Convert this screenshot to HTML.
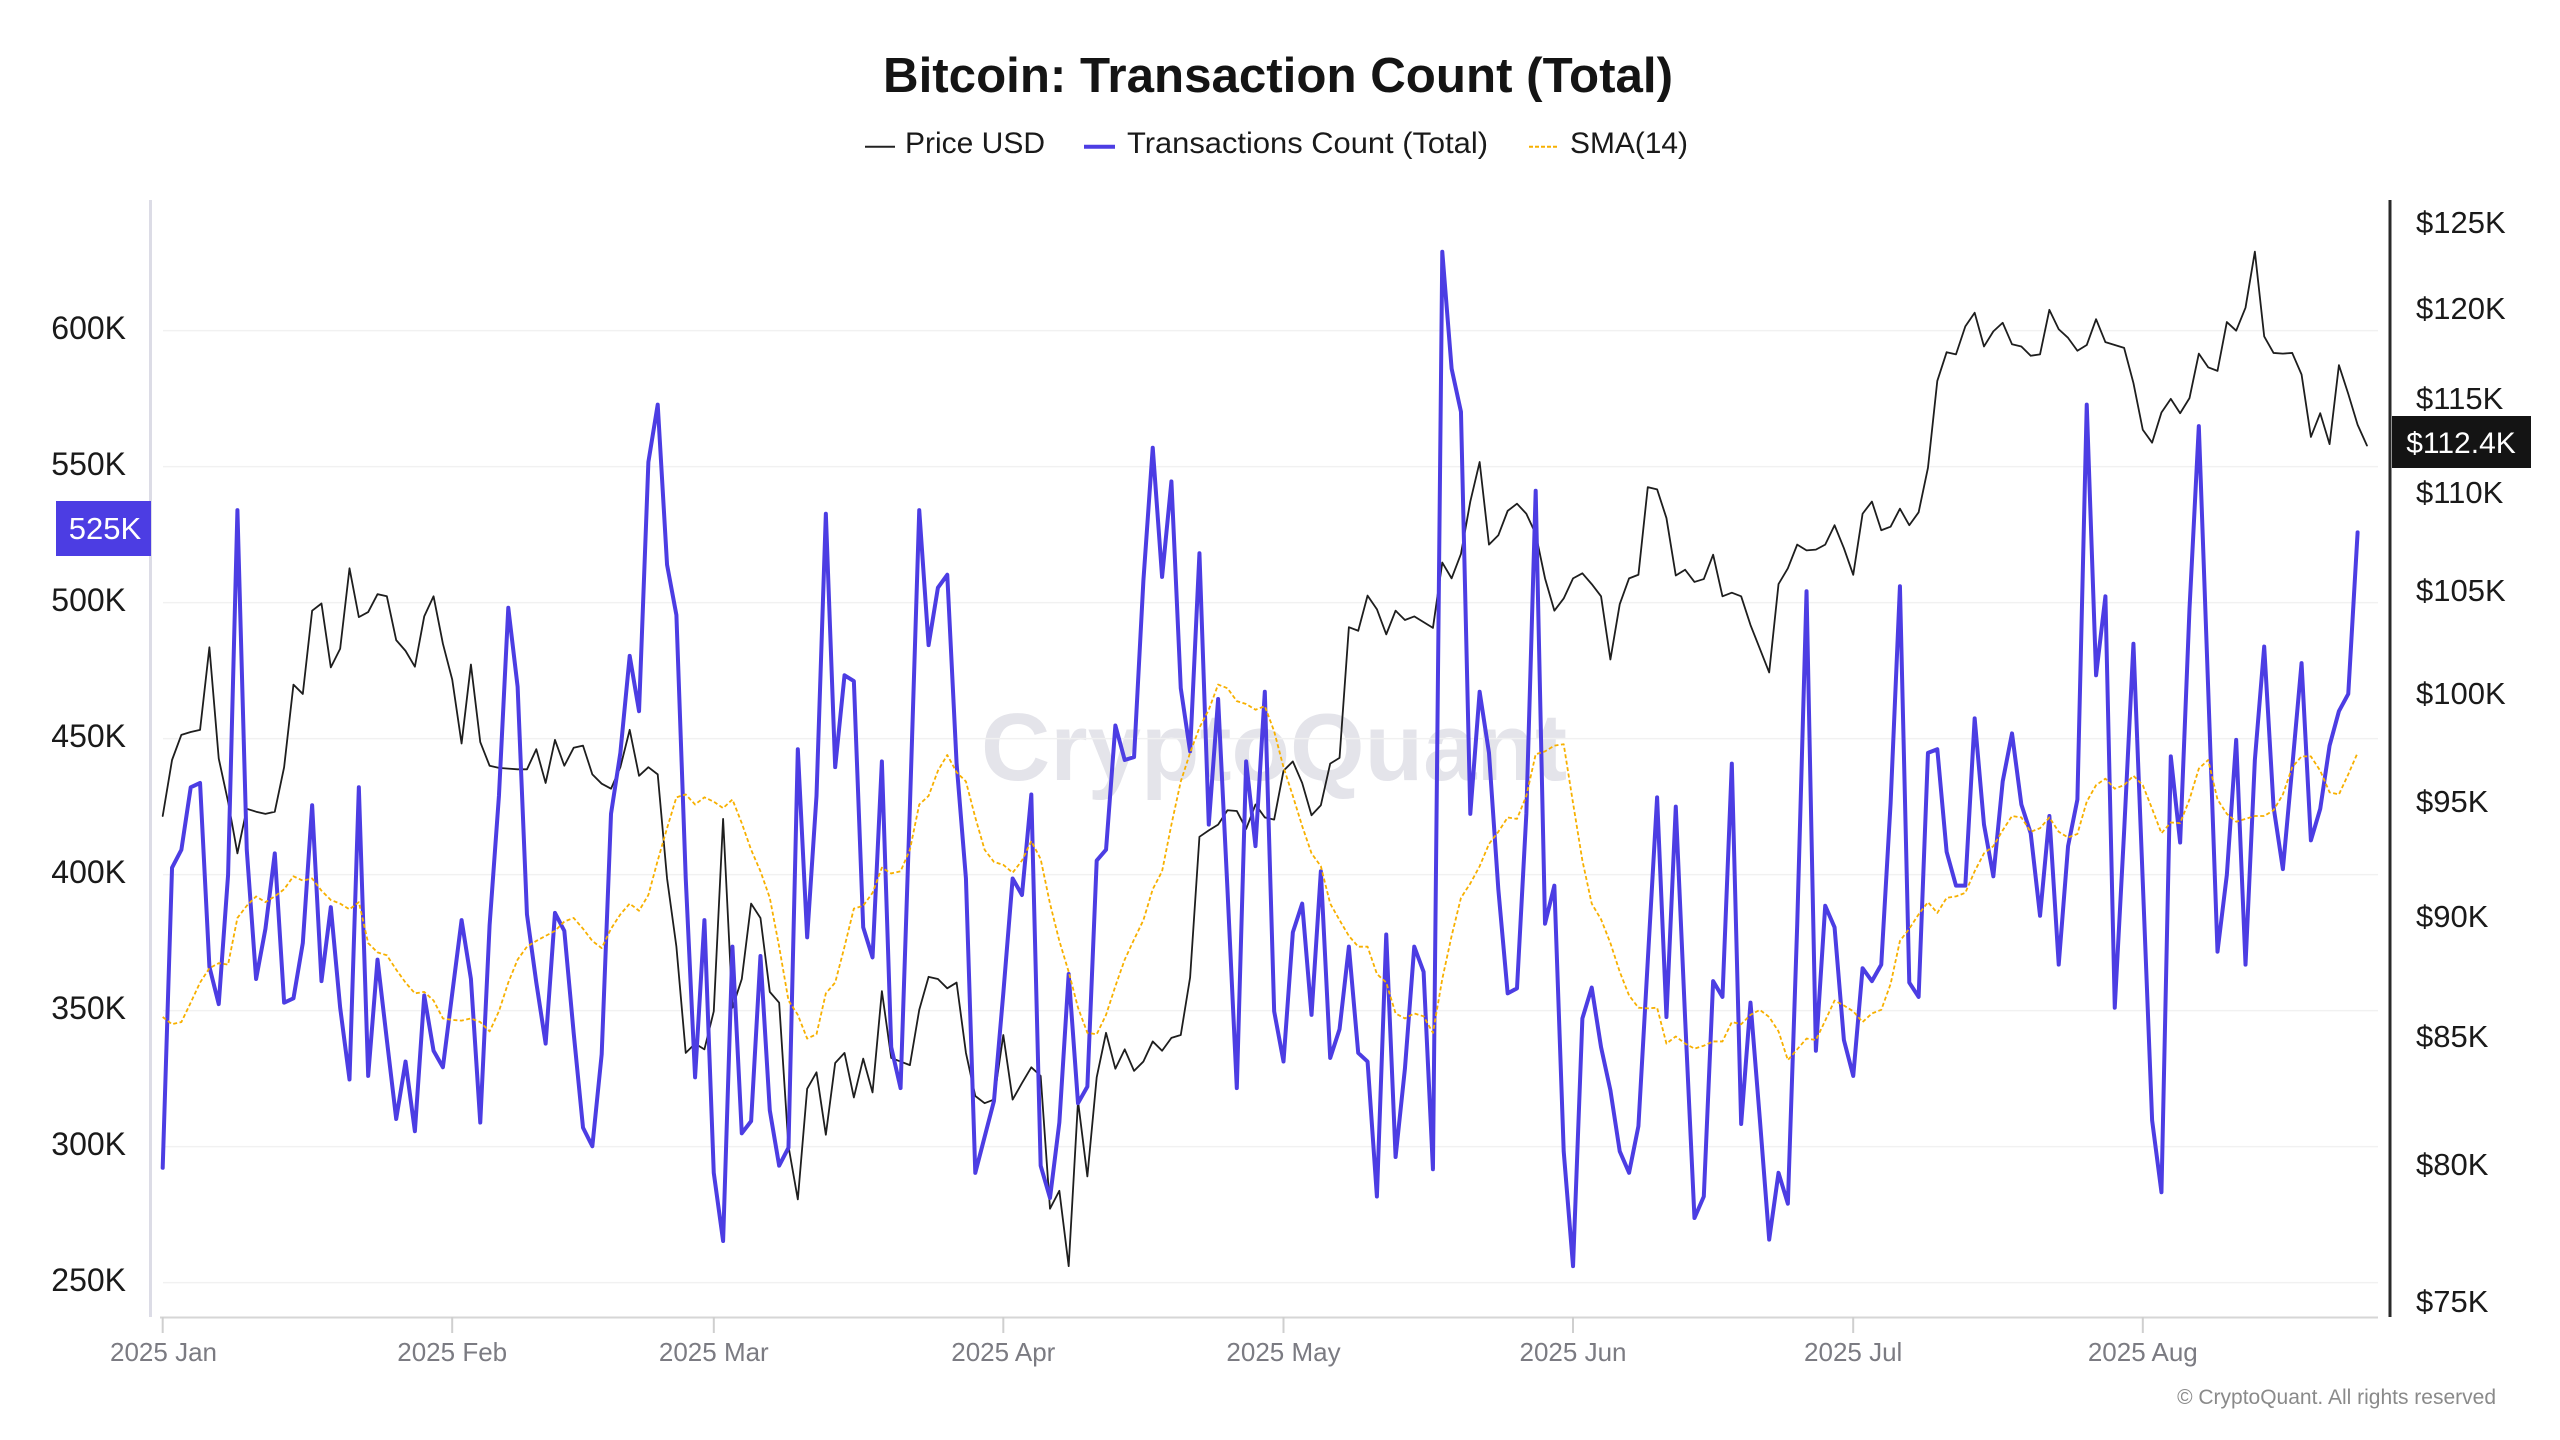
<!DOCTYPE html>
<html><head><meta charset="utf-8"><style>
html,body{margin:0;padding:0;background:#fff;}
svg{display:block;}
text{font-family:"Liberation Sans",Arial,sans-serif;}
</style></head><body>
<svg width="2560" height="1440" viewBox="0 0 2560 1440" xmlns="http://www.w3.org/2000/svg">
<rect width="2560" height="1440" fill="#fff"/>
<!-- title -->
<text x="883" y="92" font-size="49" font-weight="bold" fill="#141414" textLength="790" lengthAdjust="spacingAndGlyphs">Bitcoin: Transaction Count (Total)</text>
<!-- legend -->
<line x1="865" y1="146.7" x2="895" y2="146.7" stroke="#222" stroke-width="2"/>
<text x="905" y="153" font-size="30" fill="#1a1a1a" textLength="140" lengthAdjust="spacingAndGlyphs">Price USD</text>
<line x1="1084" y1="146.7" x2="1115" y2="146.7" stroke="#4c3de3" stroke-width="4"/>
<text x="1127" y="153" font-size="30" fill="#1a1a1a" textLength="361" lengthAdjust="spacingAndGlyphs">Transactions Count (Total)</text>
<line x1="1529" y1="146.7" x2="1559" y2="146.7" stroke="#f7b000" stroke-width="2" stroke-dasharray="4 2"/>
<text x="1570" y="153" font-size="30" fill="#1a1a1a" textLength="118" lengthAdjust="spacingAndGlyphs">SMA(14)</text>

<!-- watermark -->
<text x="981" y="780" font-size="96" font-weight="bold" fill="#e4e4ea" textLength="586" lengthAdjust="spacingAndGlyphs">CryptoQuant</text>

<!-- gridlines -->
<g stroke="#f1f1f1" stroke-width="1.5">
<line x1="163" y1="330.6" x2="2378" y2="330.6"/>
<line x1="163" y1="466.6" x2="2378" y2="466.6"/>
<line x1="163" y1="602.6" x2="2378" y2="602.6"/>
<line x1="163" y1="738.6" x2="2378" y2="738.6"/>
<line x1="163" y1="874.6" x2="2378" y2="874.6"/>
<line x1="163" y1="1010.6" x2="2378" y2="1010.6"/>
<line x1="163" y1="1146.6" x2="2378" y2="1146.6"/>
<line x1="163" y1="1282.6" x2="2378" y2="1282.6"/>
</g>

<!-- axes -->
<line x1="150.5" y1="200" x2="150.5" y2="1317" stroke="#dcdce6" stroke-width="3"/>
<line x1="2390" y1="200" x2="2390" y2="1317" stroke="#2a2a2a" stroke-width="3"/>
<line x1="160" y1="1317.5" x2="2378" y2="1317.5" stroke="#d6d6d6" stroke-width="2"/>
<g stroke="#cfcfcf" stroke-width="2">
<line x1="162.7" y1="1317" x2="162.7" y2="1333"/>
<line x1="452.2" y1="1317" x2="452.2" y2="1333"/>
<line x1="713.8" y1="1317" x2="713.8" y2="1333"/>
<line x1="1003.3" y1="1317" x2="1003.3" y2="1333"/>
<line x1="1283.5" y1="1317" x2="1283.5" y2="1333"/>
<line x1="1573.0" y1="1317" x2="1573.0" y2="1333"/>
<line x1="1853.2" y1="1317" x2="1853.2" y2="1333"/>
<line x1="2142.8" y1="1317" x2="2142.8" y2="1333"/>
</g>

<!-- left labels -->
<g font-size="32" fill="#1a1a1a" text-anchor="end">
<text x="126" y="339">600K</text>
<text x="126" y="475">550K</text>
<text x="126" y="611">500K</text>
<text x="126" y="747">450K</text>
<text x="126" y="883">400K</text>
<text x="126" y="1019">350K</text>
<text x="126" y="1155">300K</text>
<text x="126" y="1291">250K</text>
</g>
<!-- right labels -->
<g font-size="31" fill="#1a1a1a">
<text x="2416" y="233">$125K</text>
<text x="2416" y="319">$120K</text>
<text x="2416" y="409">$115K</text>
<text x="2416" y="503">$110K</text>
<text x="2416" y="601">$105K</text>
<text x="2416" y="704">$100K</text>
<text x="2416" y="812">$95K</text>
<text x="2416" y="927">$90K</text>
<text x="2416" y="1047">$85K</text>
<text x="2416" y="1175">$80K</text>
<text x="2416" y="1312">$75K</text>
</g>
<!-- x labels -->
<g font-size="26" fill="#7b7b82" text-anchor="middle">
<text x="163.5" y="1361">2025 Jan</text>
<text x="452.2" y="1361">2025 Feb</text>
<text x="713.8" y="1361">2025 Mar</text>
<text x="1003.3" y="1361">2025 Apr</text>
<text x="1283.5" y="1361">2025 May</text>
<text x="1573.0" y="1361">2025 Jun</text>
<text x="1853.2" y="1361">2025 Jul</text>
<text x="2142.8" y="1361">2025 Aug</text>
</g>
<text x="2496" y="1404" font-size="21" fill="#8a8a8a" text-anchor="end">© CryptoQuant. All rights reserved</text>

<!-- series -->
<g transform="translate(162.7 200) scale(9.34 0.717949)" fill="none" stroke-linejoin="round" stroke-linecap="round">
<polyline vector-effect="non-scaling-stroke" stroke="#1e1e1e" stroke-width="1.8" points="0,858 1,780 2,745 3,741 4,738 5,623 6,778 7,838 8,910 9,848 10,852 11,855 12,852 13,790 14,675 15,688 16,572 17,562 18,651 19,625 20,513 21,581 22,574 23,549 24,552 25,613 26,628 27,650 28,580 29,552 30,618 31,668 32,757 33,647 34,755 35,788 36,791 37,792 38,793 39,793 40,765 41,812 42,752 43,788 44,763 45,760 46,800 47,813 48,820 49,790 50,738 51,802 52,790 53,800 54,945 55,1040 56,1188 57,1175 58,1183 59,1130 60,862 61,1125 62,1085 63,980 64,1000 65,1103 66,1118 67,1318 68,1392 69,1238 70,1215 71,1302 72,1202 73,1188 74,1250 75,1196 76,1243 77,1102 78,1195 79,1200 80,1205 81,1128 82,1082 83,1085 84,1098 85,1090 86,1188 87,1248 88,1258 89,1253 90,1163 91,1253 92,1230 93,1208 94,1220 95,1405 96,1380 97,1485 98,1255 99,1360 100,1222 101,1160 102,1210 103,1183 104,1213 105,1200 106,1172 107,1185 108,1167 109,1163 110,1083 111,887 112,878 113,870 114,850 115,851 116,876 117,842 118,860 119,863 120,795 121,782 122,812 123,857 124,843 125,785 126,777 127,595 128,600 129,551 130,570 131,605 132,572 133,585 134,580 135,588 136,596 137,505 138,527 139,493 140,420 141,365 142,480 143,467 144,433 145,423 146,437 147,465 148,527 149,572 150,555 151,527 152,520 153,535 154,552 155,640 156,563 157,527 158,522 159,400 160,403 161,443 162,523 163,515 164,532 165,528 166,494 167,552 168,547 169,552 170,592 171,625 172,658 173,535 174,513 175,480 176,488 177,487 178,480 179,453 180,485 181,522 182,437 183,420 184,460 185,455 186,430 187,453 188,435 189,373 190,252 191,212 192,215 193,176 194,157 195,204 196,183 197,171 198,201 199,204 200,217 201,215 202,153 203,180 204,192 205,210 206,202 207,166 208,198 209,202 210,206 211,255 212,320 213,338 214,296 215,277 216,297 217,276 218,214 219,233 220,238 221,170 222,182 223,150 224,72 225,190 226,213 227,214 228,213 229,243 230,330 231,297 232,340 233,230 234,270 235,313 236,342"/>
<polyline vector-effect="non-scaling-stroke" stroke="#4c3de3" stroke-width="4" points="0,1348 1,930 2,905 3,818 4,812 5,1068 6,1120 7,940 8,432 9,905 10,1085 11,1015 12,910 13,1118 14,1112 15,1035 16,843 17,1088 18,985 19,1125 20,1225 21,818 22,1220 23,1058 24,1170 25,1280 26,1200 27,1297 28,1108 29,1185 30,1208 31,1105 32,1003 33,1085 34,1285 35,1010 36,830 37,568 38,678 39,995 40,1090 41,1175 42,993 43,1018 44,1160 45,1292 46,1318 47,1190 48,855 49,770 50,635 51,712 52,365 53,285 54,508 55,578 56,945 57,1222 58,1003 59,1355 60,1450 61,1040 62,1300 63,1283 64,1053 65,1268 66,1345 67,1320 68,765 69,1027 70,830 71,437 72,790 73,662 74,670 75,1013 76,1055 77,782 78,1180 79,1237 80,845 81,432 82,620 83,540 84,522 85,785 86,945 87,1355 88,1305 89,1255 90,1105 91,945 92,968 93,828 94,1345 95,1390 96,1285 97,1078 98,1258 99,1235 100,920 101,905 102,732 103,780 104,776 105,530 106,345 107,525 108,392 109,680 110,768 111,492 112,870 113,695 114,960 115,1237 116,782 117,900 118,685 119,1130 120,1200 121,1020 122,980 123,1135 124,935 125,1195 126,1155 127,1040 128,1188 129,1200 130,1388 131,1023 132,1333 133,1210 134,1040 135,1075 136,1350 137,72 138,235 139,295 140,855 141,685 142,770 143,960 144,1105 145,1098 146,855 147,405 148,1008 149,955 150,1325 151,1485 152,1140 153,1097 154,1180 155,1240 156,1325 157,1355 158,1290 159,1060 160,832 161,1138 162,845 163,1140 164,1418 165,1388 166,1088 167,1110 168,785 169,1287 170,1118 171,1280 172,1448 173,1355 174,1398 175,1010 176,545 177,1185 178,983 179,1013 180,1170 181,1220 182,1070 183,1088 184,1065 185,840 186,538 187,1090 188,1110 189,770 190,765 191,908 192,955 193,955 194,722 195,870 196,942 197,810 198,743 199,842 200,882 201,997 202,858 203,1065 204,900 205,835 206,285 207,662 208,552 209,1125 210,880 211,618 212,950 213,1282 214,1382 215,775 216,895 217,570 218,315 219,680 220,1047 221,940 222,752 223,1065 224,780 225,622 226,845 227,932 228,790 229,645 230,892 231,848 232,760 233,712 234,688 235,463"/>
<polyline vector-effect="non-scaling-stroke" stroke="#f7b000" stroke-width="1.8" stroke-dasharray="4 2.5" stroke-linecap="butt" points="0,1138 1,1148 2,1145 3,1118 4,1090 5,1070 6,1063 7,1065 8,1000 9,983 10,970 11,978 12,970 13,960 14,942 15,948 16,945 17,962 18,975 19,980 20,988 21,978 22,1035 23,1048 24,1052 25,1072 26,1090 27,1105 28,1103 29,1115 30,1140 31,1142 32,1143 33,1140 34,1145 35,1158 36,1130 37,1090 38,1058 39,1040 40,1032 41,1025 42,1018 43,1005 44,1000 45,1015 46,1032 47,1042 48,1015 49,995 50,980 51,990 52,968 53,920 54,875 55,832 56,828 57,842 58,832 59,838 60,847 61,835 62,868 63,905 64,935 65,972 66,1040 67,1115 68,1135 69,1168 70,1162 71,1105 72,1090 73,1040 74,987 75,983 76,965 77,930 78,938 79,935 80,905 81,842 82,830 83,795 84,773 85,797 86,810 87,860 88,905 89,922 90,926 91,937 92,920 93,893 94,918 95,980 96,1032 97,1075 98,1125 99,1160 100,1162 101,1135 102,1095 103,1058 104,1030 105,1003 106,960 107,935 108,870 109,810 110,770 111,735 112,710 113,675 114,680 115,698 116,702 117,710 118,705 119,740 120,790 121,830 122,872 123,910 124,928 125,980 126,1003 127,1025 128,1040 129,1040 130,1078 131,1090 132,1133 133,1140 134,1133 135,1137 136,1160 137,1085 138,1025 139,972 140,952 141,928 142,897 143,880 144,860 145,862 146,830 147,772 148,768 149,760 150,758 151,840 152,920 153,980 154,1002 155,1035 156,1075 157,1108 158,1125 159,1126 160,1125 161,1175 162,1165 163,1175 164,1182 165,1178 166,1172 167,1172 168,1145 169,1148 170,1135 171,1128 172,1138 173,1158 174,1198 175,1183 176,1168 177,1170 178,1143 179,1115 180,1122 181,1130 182,1145 183,1133 184,1128 185,1092 186,1032 187,1015 188,995 189,978 190,993 191,972 192,970 193,965 194,935 195,910 196,900 197,878 198,858 199,860 200,880 201,875 202,860 203,880 204,888 205,883 206,838 207,815 208,806 209,820 210,815 211,802 212,815 213,848 214,882 215,867 216,868 217,835 218,792 219,780 220,835 221,855 222,866 223,862 224,858 225,858 226,850 227,828 228,790 229,775 230,775 231,795 232,825 233,828 234,800 235,770"/>
</g>

<!-- value tags -->
<rect x="56" y="501" width="95" height="55" fill="#4c3de3"/>
<text x="105" y="539" font-size="31" fill="#fff" text-anchor="middle">525K</text>
<rect x="2392" y="416" width="139" height="52" fill="#141414"/>
<text x="2461" y="453" font-size="30" fill="#fff" text-anchor="middle">$112.4K</text>
</svg>
</body></html>
